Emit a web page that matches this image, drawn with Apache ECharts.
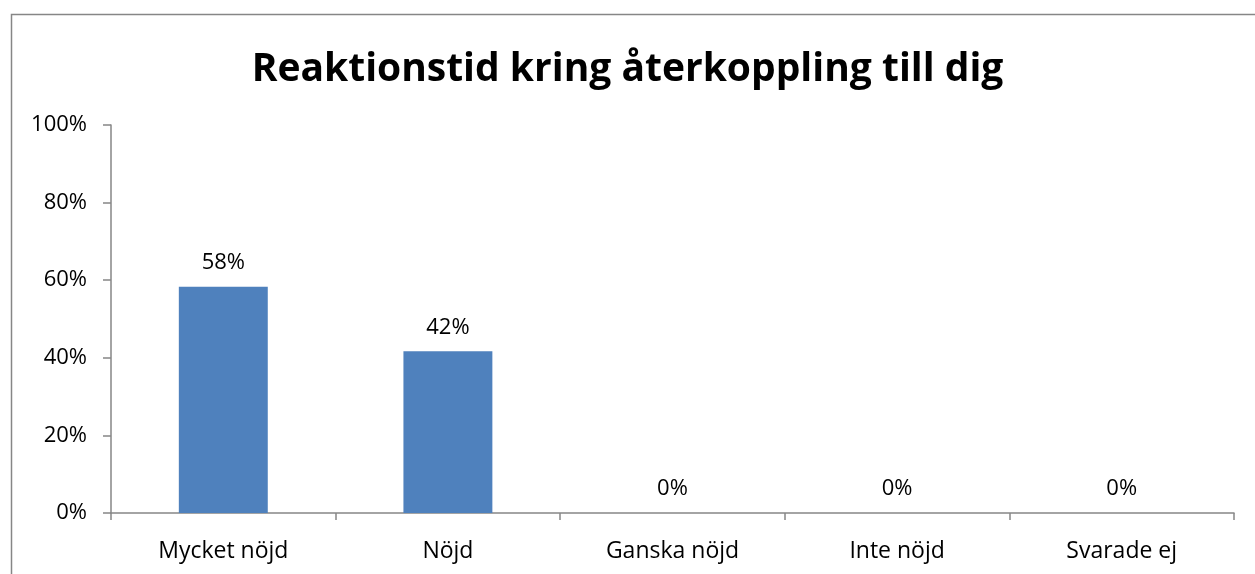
<!DOCTYPE html>
<html><head><meta charset="utf-8">
<script src="https://cdn.jsdelivr.net/npm/echarts@6/dist/echarts.min.js"></script>
<style>html,body{margin:0;padding:0;background:#fff}#c{width:1255px;height:574px}</style>
</head><body><div id="c"></div>
<script>
const title = 'Reaktionstid kring återkoppling till dig';
const categories = ['Mycket nöjd', 'Nöjd', 'Ganska nöjd', 'Inte nöjd', 'Svarade ej'];
const values = [58.33, 41.67, 0, 0, 0];
const yTicks = [0, 20, 40, 60, 80, 100];

const FONT = 'Open Sans';
const chart = echarts.init(document.getElementById('c'), null, {renderer: 'canvas'});
chart.setOption({
  animation: false,
  backgroundColor: '#fff',
  graphic: [{
    type: 'rect', left: 9, top: 12, z: -1,
    shape: {width: 1300, height: 700},
    style: {fill: 'none', stroke: '#868686', lineWidth: 1.5}
  }],
  title: {
    text: title, left: 'center', top: 45,
    textStyle: {fontFamily: FONT, fontWeight: 'bold', fontSize: 39, color: '#000'}
  },
  grid: {left: 111, right: 21, top: 125, bottom: 61, containLabel: false},
  xAxis: {
    type: 'category', data: categories,
    axisLine: {lineStyle: {color: '#868686', width: 1.5}},
    axisTick: {show: true, length: 7, alignWithLabel: false, lineStyle: {color: '#868686', width: 1.5}},
    axisLabel: {fontFamily: FONT, fontSize: 23, color: '#000', margin: 27}
  },
  yAxis: {
    type: 'value', min: 0, max: 100, interval: 20,
    axisLine: {show: true, lineStyle: {color: '#868686', width: 1.5}},
    axisTick: {show: true, length: 8, lineStyle: {color: '#868686', width: 1.5}},
    splitLine: {show: false},
    axisLabel: {fontFamily: FONT, fontSize: 22, color: '#000', margin: 24,
      formatter: v => yTicks.includes(v) ? v + '%' : ''}
  },
  series: [{
    type: 'bar', data: values, barWidth: '39.6%',
    itemStyle: {color: '#4F81BD'},
    label: {show: true, position: 'top', distance: 13, fontFamily: FONT, fontSize: 22, color: '#000',
      formatter: p => Math.round(p.value) + '%'}
  }]
});
</script></body></html>
